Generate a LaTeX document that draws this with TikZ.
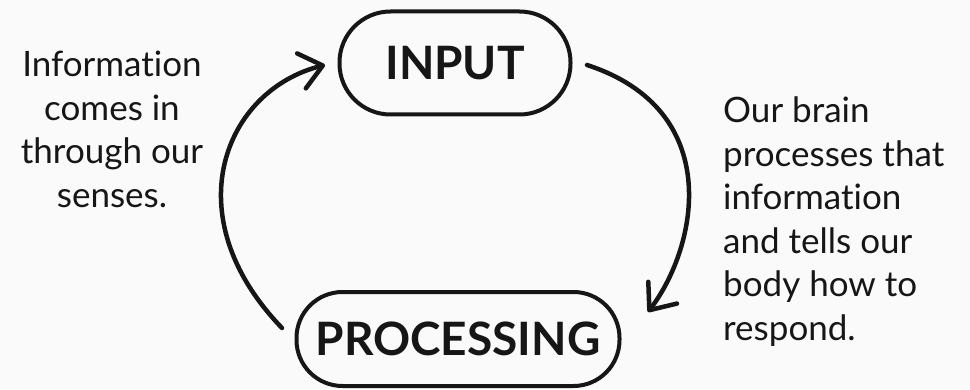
\documentclass[tikz,border=0pt]{standalone}
\usepackage{fontspec}
\setmainfont{Lato}[Ligatures=NoCommon]
\usepackage{xcolor}
\usepackage{tikz}
\usetikzlibrary{arrows.meta,positioning}

\definecolor{ink}{HTML}{161616}
\definecolor{paper}{HTML}{FAFAFA}

\begin{document}
\begin{tikzpicture}[
    x=1pt, y=1pt,
    stage/.style={draw=ink, line width=4pt, align=center, text=ink,
        font=\fontsize{46}{50}\selectfont\bfseries, inner sep=0pt},
    note/.style={text=ink, font=\fontsize{35}{43.5}\selectfont, inner sep=0pt},
    arr/.style={-{Straight Barb[length=22pt,width=36pt,round]}, draw=ink, line width=4.5pt, line cap=round}
]
\fill[paper] (0,0) rectangle (970,389);
\useasboundingbox (0,0) rectangle (970,389);

\node[stage, rounded corners=51pt, minimum width=231pt, minimum height=103pt] (input) at (455,326) {INPUT};
\node[stage, rounded corners=46pt, minimum width=323pt, minimum height=94pt] (processing) at (458,50) {PROCESSING};

\node[note, align=center, anchor=base] (sensesnote) at (112,182)
    {Information\\comes in\\through our\\senses.};
\node[note, align=left, anchor=base west] (brainnote) at (723,49)
    {Our brain\\processes that\\information\\and tells our\\body how to\\respond.};

% loop ends
\coordinate (inout) at (587,324);
\coordinate (procin) at (648,77);
\coordinate (procout) at (282,61);
\coordinate (inin) at (325,324);

\draw[arr] (inout) .. controls +(138,-45) and +(50,66) .. (procin);
\draw[arr] (procout) .. controls +(-109,113) and +(-100,-25) .. (inin);
\end{tikzpicture}
\end{document}
